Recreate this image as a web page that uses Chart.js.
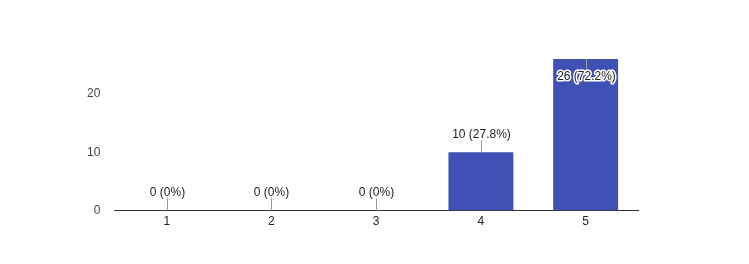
<!DOCTYPE html>
<html lang="en">
<head>
    <meta charset="UTF-8">
    <title>Rating distribution</title>
    <script src="https://cdn.jsdelivr.net/npm/chart.js"></script>
    <style>
        html, body {
            margin: 0;
            padding: 0;
            background: #fff;
        }
        #wrap {
            width: 749px;
            height: 264px;
        }
    </style>
</head>
<body>
    <div id="wrap"><canvas id="ratingChart"></canvas></div>

    <script>
        // data
        const categories = ['1', '2', '3', '4', '5'];
        const counts = [0, 0, 0, 10, 26];
        const yTicks = [0, 10, 20];

        const total = counts.reduce((a, b) => a + b, 0);
        const FONT = '"Liberation Sans", Arial, sans-serif';

        // value labels with a small leader line, like the original
        const barLabels = {
            id: 'barLabels',
            afterDatasetsDraw(chart) {
                const ctx = chart.ctx;
                const meta = chart.getDatasetMeta(0);
                const area = chart.chartArea;
                ctx.save();
                ctx.font = '12px ' + FONT;
                ctx.textAlign = 'center';
                ctx.textBaseline = 'middle';
                meta.data.forEach((bar, i) => {
                    const v = counts[i];
                    const pct = total ? Math.round(v / total * 1000) / 10 : 0;
                    const text = v + ' (' + pct + '%)';
                    const x = Math.round(bar.x) + 0.5;
                    const top = bar.y;
                    const inside = top - 26 < area.top;

                    ctx.strokeStyle = '#999';
                    ctx.lineWidth = 1;
                    ctx.beginPath();
                    if (inside) {
                        ctx.moveTo(x, top);
                        ctx.lineTo(x, top + 12);
                    } else {
                        ctx.moveTo(x, top);
                        ctx.lineTo(x, top - 12);
                    }
                    ctx.stroke();

                    if (inside) {
                        ctx.lineWidth = 3;
                        ctx.strokeStyle = '#fff';
                        ctx.lineJoin = 'round';
                        ctx.strokeText(text, x, top + 18);
                        ctx.fillStyle = '#222';
                        ctx.fillText(text, x, top + 18);
                    } else {
                        ctx.fillStyle = '#222';
                        ctx.fillText(text, x, top - 18);
                    }
                });
                ctx.restore();
            }
        };

        new Chart(document.getElementById('ratingChart'), {
            type: 'bar',
            data: {
                labels: categories,
                datasets: [{
                    data: counts,
                    backgroundColor: '#3f51b5',
                    categoryPercentage: 1,
                    barPercentage: 0.62
                }]
            },
            options: {
                responsive: true,
                maintainAspectRatio: false,
                animation: false,
                layout: {
                    padding: { top: 59, left: 73, right: 111, bottom: 31 }
                },
                plugins: {
                    legend: { display: false },
                    tooltip: { enabled: false }
                },
                scales: {
                    x: {
                        grid: { display: false, drawTicks: false },
                        border: { display: true, color: '#333', width: 1 },
                        ticks: {
                            color: '#222',
                            padding: 4,
                            font: { family: FONT, size: 12 }
                        }
                    },
                    y: {
                        min: 0,
                        max: 26,
                        afterBuildTicks(scale) {
                            scale.ticks = yTicks.map(v => ({ value: v }));
                        },
                        grid: { display: false, drawTicks: false },
                        border: { display: false },
                        ticks: {
                            color: '#444',
                            padding: 14,
                            font: { family: FONT, size: 12 }
                        }
                    }
                }
            },
            plugins: [barLabels]
        });
    </script>
</body>
</html>
